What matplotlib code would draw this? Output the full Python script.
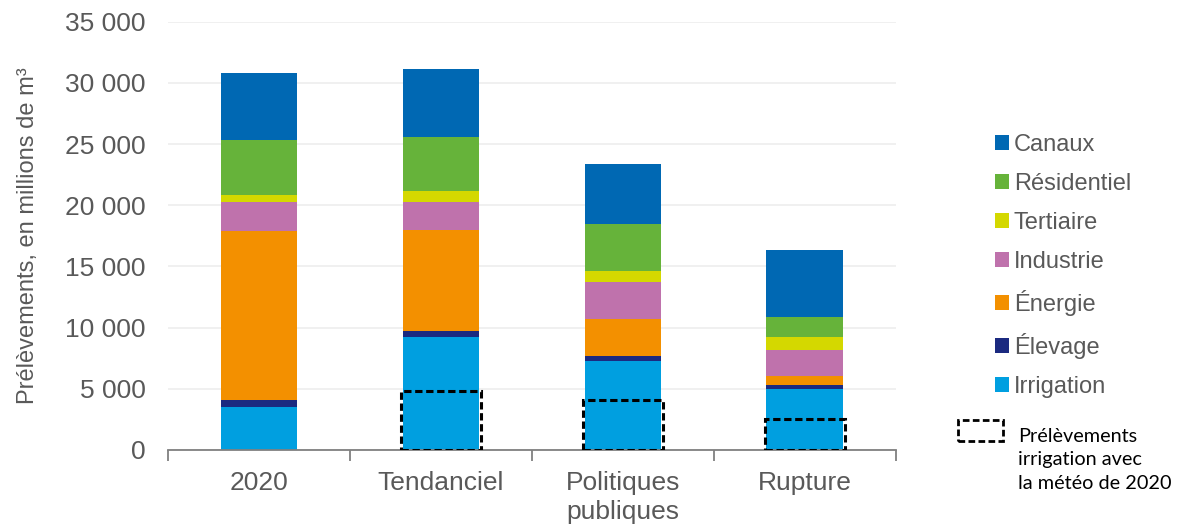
import matplotlib
matplotlib.use("Agg")
import matplotlib.pyplot as plt
import numpy as np
from matplotlib.patches import Rectangle, Patch
from matplotlib.ticker import FuncFormatter, FixedLocator

plt.rcParams['font.family'] = ['Liberation Sans', 'DejaVu Sans']

categories = ["2020", "Tendanciel", "Politiques\npubliques", "Rupture"]
series_names = ["Irrigation", "Élevage", "Énergie", "Industrie", "Tertiaire", "Résidentiel", "Canaux"]
irrigation = [3510, 9230, 7300, 4980]
elevage = [570, 490, 410, 330]
energie = [13840, 8230, 3020, 740]
industrie = [2340, 2340, 3020, 2150]
tertiaire = [600, 870, 900, 1010]
residentiel = [4440, 4440, 3790, 1660]
canaux = [5480, 5500, 4930, 5500]
irrigation_meteo_2020 = [np.nan, 4850, 4060, 2510]

colors = ["#009FE0", "#1B2A80", "#F39000", "#BF72AC", "#D4D800", "#66B33A", "#0068B3"]
series = [irrigation, elevage, energie, industrie, tertiaire, residentiel, canaux]

fig = plt.figure(figsize=(11.8, 5.25), dpi=100)
ax = fig.add_axes([0.1424, 0.1429, 0.6166, 0.8158])

x = np.arange(len(categories))
width = 0.42
bottom = np.zeros(len(categories))
handles = []
for name, vals, c in zip(series_names, series, colors):
    v = np.array(vals, dtype=float)
    ax.bar(x, v, width, bottom=bottom, color=c, edgecolor='none', zorder=2)
    bottom += v
    handles.append(Patch(facecolor=c, edgecolor='none', label=name))

ax.bar(x, irrigation_meteo_2020, width + 0.02, bottom=0, fill=False,
       edgecolor='black', linewidth=2.2, linestyle=(0, (2.4, 1.2)), zorder=3)

ax.set_xlim(-0.5, 3.5)
ax.set_ylim(0, 35000)
ax.set_yticks(np.arange(0, 35001, 5000))
ax.yaxis.set_major_formatter(FuncFormatter(lambda v, p: f"{int(v):,}".replace(",", " ")))
ax.grid(axis='y', color='#EDEDED', linewidth=1.2, zorder=0)
ax.set_axisbelow(True)

ax.xaxis.set_major_locator(FixedLocator(np.arange(-0.5, 3.6, 1)))
ax.xaxis.set_minor_locator(FixedLocator(x))
ax.set_xticklabels([], minor=False)
ax.set_xticklabels(categories, minor=True)
ax.tick_params(axis='x', which='major', length=8, width=1.3, color='#808080', direction='out')
ax.tick_params(axis='x', which='minor', length=0, pad=15, labelsize=19, labelcolor='#595959')
ax.tick_params(axis='y', length=0, pad=16, labelsize=19, labelcolor='#595959')
for t in ax.get_xticklabels(minor=True):
    t.set_linespacing(1.25)

for s in ['top', 'right', 'left']:
    ax.spines[s].set_visible(False)
ax.spines['bottom'].set_color('#808080')
ax.spines['bottom'].set_linewidth(1.3)

ax.set_ylabel("Prélèvements, en millions de m³", fontsize=17, color='#595959')
ax.yaxis.set_label_coords(-0.178, 0.5)

leg = fig.legend(handles=handles[::-1], loc='upper left', bbox_to_anchor=(0.833, 0.768),
                 frameon=False, fontsize=17, labelcolor='#595959', handlelength=0.6,
                 handleheight=0.6, handletextpad=0.2, labelspacing=0.72, borderpad=0)

fig.add_artist(Rectangle((958 / 1180, 1 - 441 / 525), 45 / 1180, 21 / 525, transform=fig.transFigure,
                         fill=False, edgecolor='black', linewidth=2.0, linestyle=(0, (2.4, 1.2))))
fig.text(1018 / 1180, 1 - 428 / 525, "Prélèvements\nirrigation avec\nla météo de 2020",
         fontsize=14.3, family=['Lato', 'DejaVu Sans'], va='top', ha='left', color='black', linespacing=1.45)

fig.savefig("out.png", dpi=100)
